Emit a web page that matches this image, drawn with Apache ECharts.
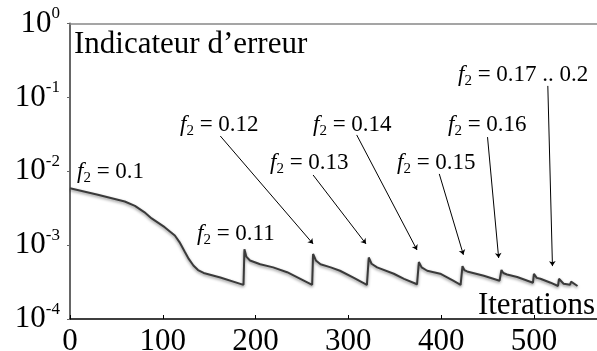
<!DOCTYPE html>
<html>
<head>
<meta charset="utf-8">
<script src="https://cdn.jsdelivr.net/npm/echarts@6/dist/echarts.min.js"></script>
<style>
  html, body { margin: 0; padding: 0; background: #fff; }
  #chart { width: 597px; height: 351px; }
</style>
</head>
<body>
<div id="chart"></div>
<script>
// error indicator per iteration (log scale)
const iterations = [0, 30, 59, 70, 80, 88, 102, 113, 118, 124, 128, 133, 138, 144, 162, 187,
  188, 190, 194, 205, 219, 234, 261,
  262, 265, 270, 281, 291, 306, 320,
  322, 325, 331, 349, 360, 374,
  376, 379, 385, 399, 413, 421,
  423, 425, 428, 446, 463,
  465, 467, 471, 482, 499,
  500, 503, 507, 518, 526,
  527, 532, 539, 540, 547];
const errorValues = [5.9e-3, 4.8e-3, 3.9e-3, 3.4e-3, 2.8e-3, 2.3e-3, 1.75e-3, 1.35e-3, 1.1e-3, 8.0e-4, 6.5e-4, 5.3e-4, 4.6e-4, 4.2e-4, 3.65e-4, 2.9e-4,
  8.8e-4, 7.0e-4, 6.2e-4, 5.5e-4, 5.0e-4, 4.3e-4, 2.9e-4,
  7.6e-4, 6.2e-4, 5.5e-4, 5.0e-4, 4.5e-4, 3.6e-4, 2.9e-4,
  6.8e-4, 5.6e-4, 5.0e-4, 4.1e-4, 3.5e-4, 2.95e-4,
  5.9e-4, 5.0e-4, 4.5e-4, 4.1e-4, 3.3e-4, 2.9e-4,
  5.2e-4, 4.6e-4, 4.4e-4, 3.85e-4, 3.3e-4,
  4.6e-4, 4.2e-4, 4.0e-4, 3.7e-4, 3.1e-4,
  4.1e-4, 3.6e-4, 3.5e-4, 3.1e-4, 2.8e-4,
  3.5e-4, 3.0e-4, 2.9e-4, 3.2e-4, 2.8e-4];

const f2Labels = ["0.1", "0.11", "0.12", "0.13", "0.14", "0.15", "0.16", "0.17 .. 0.2"];
// arrows from label (iteration, value) to the restart point
const arrowFrom = [[162, 0.030], [262, 8.9e-3], [309, 0.031], [398, 9.2e-3], [450, 0.029], [515, 0.143]];
const arrowTo = [[262, 1.04e-3], [319, 1.04e-3], [374, 8.6e-4], [424, 7.4e-4], [462, 6.7e-4], [520, 5.2e-4]];

const serif = "'Liberation Serif', 'DejaVu Serif', serif";
const labelSpots = [[77, 172], [197, 234], [180, 125], [270, 163], [313, 125], [397, 163], [448, 125], [458, 75]];

const chart = echarts.init(document.getElementById("chart"));

const f2Rich = {
  f: { fontFamily: serif, fontStyle: "italic", fontSize: 23, lineHeight: 28, color: "#000" },
  s: { fontFamily: serif, fontSize: 15, lineHeight: 15, verticalAlign: "bottom", color: "#000" },
  t: { fontFamily: serif, fontSize: 23, lineHeight: 28, color: "#000" },
};

chart.setOption({
  animation: false,
  title: [
    { text: "Indicateur d’erreur", left: 74, top: 29, padding: 0,
      textStyle: { fontFamily: serif, fontSize: 31, fontWeight: "normal", color: "#000" } },
    { text: "Iterations", right: 2, top: 290, padding: 0,
      textStyle: { fontFamily: serif, fontSize: 31, fontWeight: "normal", color: "#000" } },
  ],
  grid: { left: 70, right: 0, top: 23.5, bottom: 32, outerBoundsMode: "none" },
  xAxis: [
    {
      type: "value", min: 0, max: 568, interval: 100,
      axisLine: { lineStyle: { color: "#000", width: 1.5 } },
      axisTick: { inside: true, length: 4, lineStyle: { color: "#000" } },
      axisLabel: { fontFamily: serif, fontSize: 31, color: "#000", margin: 7, showMaxLabel: false },
      splitLine: { show: false },
    },
    {
      type: "value", position: "top", min: 0, max: 568,
      axisLine: { lineStyle: { color: "#888", width: 1.5 } },
      axisTick: { show: false }, axisLabel: { show: false }, splitLine: { show: false },
    },
  ],
  yAxis: {
    type: "log", logBase: 10, min: 1e-4, max: 1,
    axisLine: { show: true, lineStyle: { color: "#666", width: 2 } },
    axisTick: { show: true, length: 3, lineStyle: { color: "#666" } },
    splitLine: { show: false },
    axisLabel: {
      margin: 10,
      formatter: (v) => "{b|10}{s|" + Math.round(Math.log10(v)) + "}",
      rich: {
        b: { fontFamily: serif, fontSize: 31, lineHeight: 36, color: "#000" },
        s: { fontFamily: serif, fontSize: 17, lineHeight: 17, verticalAlign: "top", color: "#000" },
      },
    },
  },
  series: [
    {
      type: "line",
      data: iterations.map((x, i) => [x, errorValues[i]]),
      showSymbol: false,
      lineStyle: { color: "#3a3a3a", width: 2, shadowColor: "rgba(0,0,0,0.45)", shadowBlur: 3, shadowOffsetY: 1.5 },
      markLine: {
        silent: true,
        symbol: ["none", "arrow"],
        symbolSize: 5,
        label: { show: false },
        lineStyle: { color: "#000", width: 1, type: "solid" },
        data: arrowFrom.map((p, i) => [{ coord: p }, { coord: arrowTo[i] }]),
      },
    },
  ],
  graphic: f2Labels.map((label, i) => ({
    type: "text",
    x: labelSpots[i][0],
    y: labelSpots[i][1],
    style: {
      text: "{f|f}{s|2}{t| = " + label + "}",
      rich: f2Rich,
      align: "left",
      verticalAlign: "middle",
    },
  })),
});
</script>
</body>
</html>
